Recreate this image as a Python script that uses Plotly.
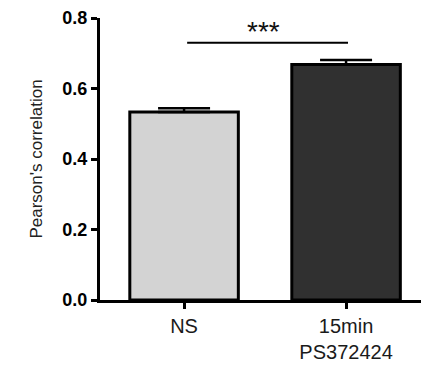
import plotly.graph_objects as go

categories = ["NS", "15min<br>PS372424"]
means = [0.533, 0.668]
errors = [0.011, 0.013]
colors = ["#d3d3d3", "#303030"]
y_ticks = [0.0, 0.2, 0.4, 0.6, 0.8]
y_tick_labels = ["0.0", "0.2", "0.4", "0.6", "0.8"]
sig_label = "***"
sig_y = 0.73

fig = go.Figure()
fig.add_trace(go.Bar(
    x=[0, 1], y=means, width=0.67,
    marker=dict(color=colors, line=dict(color="black", width=3)),
    error_y=dict(type="data", symmetric=False, array=errors, arrayminus=[0, 0],
                 color="black", thickness=2.5, width=26),
    showlegend=False,
))
fig.add_shape(type="line", x0=0.019, x1=1.012, y0=sig_y, y1=sig_y, xref="x", yref="y",
              line=dict(color="black", width=2))
fig.add_annotation(x=0.49, y=0.763, text=sig_label, showarrow=False,
                   xref="x", yref="y", yanchor="middle",
                   font=dict(family="Liberation Sans, Arial", size=28, color="#111"))

fig.update_layout(
    width=421, height=366,
    margin=dict(l=92, r=0, t=7, b=74),
    plot_bgcolor="white", paper_bgcolor="white",
    font=dict(family="Liberation Sans, Arial", color="#111"),
    xaxis=dict(
        range=[-0.519, 1.512], tickmode="array", tickvals=[0, 1], ticktext=categories,
        showline=True, linecolor="black", linewidth=3, ticks="outside", ticklen=6,
        tickwidth=3, tickcolor="black", showgrid=False, zeroline=False,
        tickfont=dict(size=20, color="#1a1a1a"),
    ),
    yaxis=dict(
        range=[0, 0.8], tickmode="array", tickvals=y_ticks, ticktext=y_tick_labels,
        showline=True, linecolor="black", linewidth=3, ticks="outside", ticklen=6,
        tickwidth=3, tickcolor="black", showgrid=False, zeroline=False,
        ticklabeloverflow="allow",
        tickfont=dict(size=18, color="black", weight="bold"),
        title=dict(text="Pearson's correlation", font=dict(size=17, color="#222"), standoff=16),
    ),
)
fig.write_html("out.html")
